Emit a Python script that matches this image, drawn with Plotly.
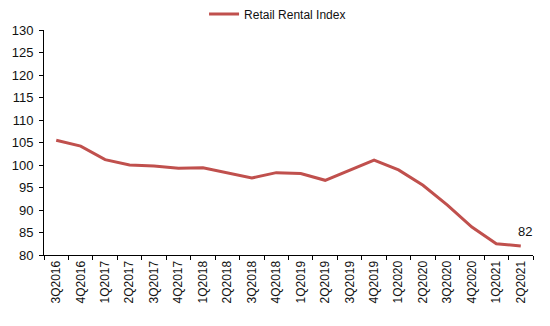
import plotly.graph_objects as go

quarters = ["3Q2016", "4Q2016", "1Q2017", "2Q2017", "3Q2017", "4Q2017", "1Q2018", "2Q2018",
            "3Q2018", "4Q2018", "1Q2019", "2Q2019", "3Q2019", "4Q2019", "1Q2020", "2Q2020",
            "3Q2020", "4Q2020", "1Q2021", "2Q2021"]
retail_index = [105.5, 104.2, 101.2, 100.0, 99.8, 99.3, 99.4, 98.3, 97.1, 98.3,
                98.1, 96.6, 98.9, 101.1, 98.9, 95.5, 91.1, 86.2, 82.5, 82.0]
series_name = "Retail Rental Index"
last_label = "82"

fig = go.Figure()
fig.add_trace(go.Scatter(x=quarters, y=retail_index, mode="lines", name=series_name,
                         line=dict(color="#C0504D", width=3)))

fig.add_annotation(x=quarters[-1], y=retail_index[-1], text=last_label, showarrow=False,
                   yshift=15, xshift=4, font=dict(size=13, color="#111111"))

fig.update_layout(
    width=550, height=326,
    margin=dict(l=44, r=17, t=30, b=71, autoexpand=False),
    paper_bgcolor="white", plot_bgcolor="white",
    font=dict(family="Liberation Sans, Arial, sans-serif", size=12, color="#111111"),
    showlegend=True,
    legend=dict(orientation="h", xref="container", x=0.371, xanchor="left",
                yref="container", y=0.957, yanchor="middle",
                font=dict(size=12), bgcolor="rgba(0,0,0,0)"),
    xaxis=dict(type="category", range=[-0.5, len(quarters) - 0.5], tickson="boundaries",
               ticks="outside", ticklen=4, tickcolor="black", showline=True, linecolor="black",
               linewidth=1, showgrid=False, tickangle=-90, zeroline=False,
               tickfont=dict(size=12), automargin=False),
    yaxis=dict(range=[80, 130], dtick=5, ticks="outside", ticklen=4, tickcolor="black",
               showline=True, linecolor="black", linewidth=1, showgrid=False, zeroline=False,
               tickfont=dict(size=13), ticklabelstandoff=3, automargin=False),
)

fig.write_html("out.html")
